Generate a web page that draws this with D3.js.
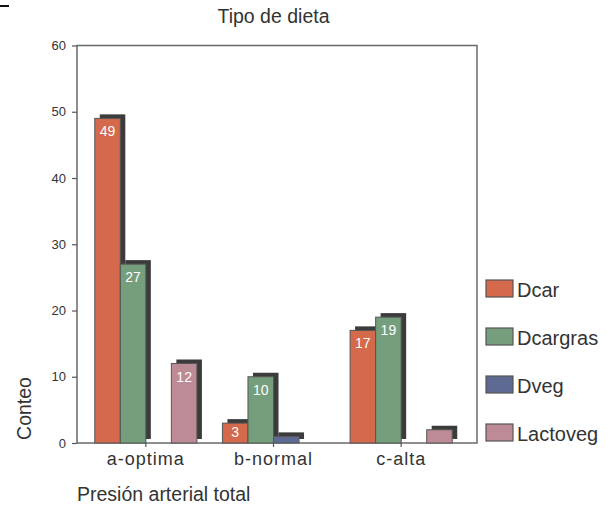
<!DOCTYPE html>
<html><head><meta charset="utf-8">
<script src="https://cdn.jsdelivr.net/npm/d3@7"></script>
<style>
body{margin:0;background:#fff;}
svg{display:block;font-family:"Liberation Sans",Arial,sans-serif;}
</style></head>
<body><svg id="c" width="607" height="510"></svg>
<script>
const categories = ["a-optima","b-normal","c-alta"];
const seriesNames = ["Dcar","Dcargras","Dveg","Lactoveg"];
const dcar = [49,3,17];
const dcargras = [27,10,19];
const dveg = [0,1,0];
const lactoveg = [12,0,2];
const yTicks = [0,10,20,30,40,50,60];
const colors = ["#d4694b","#759e7c","#5e6a92","#bd8b95"];

const seriesValues = [dcar, dcargras, dveg, lactoveg];
const svg = d3.select("#c");
const L = 77, R = 477, T = 45.5, B = 443;

const y = d3.scaleLinear().domain([0,60]).range([B,T]);
const x0 = d3.scaleBand().domain(categories).range([82,465]).paddingInner(0.2).paddingOuter(0.1);
const x1 = d3.scaleBand().domain(seriesNames).range([0,x0.bandwidth()]);

// small mark top-left
svg.append("line").attr("x1",0).attr("x2",9).attr("y1",6).attr("y2",6).attr("stroke","#111").attr("stroke-width",2);

// title
svg.append("text").attr("x",273.5).attr("y",23).attr("text-anchor","middle")
  .attr("font-size",19.5).attr("fill","#333").text("Tipo de dieta");

// frame
svg.append("rect").attr("x",L).attr("y",T).attr("width",R-L).attr("height",B-T)
  .attr("fill","none").attr("stroke","#6a6a6a").attr("stroke-width",1.5);

// y axis
const ya = svg.append("g").attr("transform",`translate(${L},0)`)
  .call(d3.axisLeft(y).tickValues(yTicks).tickSize(5).tickSizeOuter(0).tickPadding(6));
ya.select(".domain").remove();
ya.selectAll("line").attr("stroke","#555").attr("stroke-width",1.2);
ya.selectAll("text").attr("font-size",13).attr("fill","#333").attr("font-family","Liberation Sans, Arial, sans-serif");

// x axis
const xa = svg.append("g").attr("transform",`translate(0,${B})`)
  .call(d3.axisBottom(x0).tickSize(4).tickSizeOuter(0).tickPadding(5));
xa.select(".domain").remove();
xa.selectAll("line").attr("stroke","#555").attr("stroke-width",1.2);
xa.selectAll("text").attr("font-size",18).attr("letter-spacing","1px").attr("fill","#333").attr("font-family","Liberation Sans, Arial, sans-serif");

// bars with shadows
const dx = 5, dy = -4;
const groups = svg.append("g");
categories.forEach((cat, ci) => {
  seriesNames.forEach((s, si) => {
    const v = seriesValues[si][ci];
    if (v <= 0) return;
    const bx = x0(cat) + x1(s), bw = x1.bandwidth(), by = y(v), bh = y(0) - y(v);
    groups.append("rect").attr("x",bx+dx).attr("y",by+dy).attr("width",bw).attr("height",bh)
      .attr("fill","#3b3b3b");
    groups.append("rect").attr("x",bx).attr("y",by).attr("width",bw).attr("height",bh)
      .attr("fill",colors[si]).attr("stroke","#555").attr("stroke-width",1);
    if (v >= 3) {
      groups.append("text").attr("x",bx+bw/2).attr("y",Math.min(by+18, y(0)-6))
        .attr("text-anchor","middle").attr("font-size",14).attr("fill","#fff").text(v);
    }
  });
});

// axis titles
svg.append("text").attr("x",77).attr("y",501).attr("font-size",19.5).attr("fill","#333").text("Presión arterial total");
svg.append("text").attr("transform","translate(31,408.5) rotate(-90)").attr("text-anchor","middle")
  .attr("font-size",19.5).attr("fill","#333").text("Conteo");

// legend
const lg = svg.append("g");
seriesNames.forEach((s, i) => {
  const yy = 280 + i*48;
  lg.append("rect").attr("x",486).attr("y",yy).attr("width",27).attr("height",17)
    .attr("fill",colors[i]).attr("stroke","#555").attr("stroke-width",1.2);
  lg.append("text").attr("x",517).attr("y",yy+16.5).attr("font-size",20).attr("fill","#333").text(s);
});
</script></body></html>
